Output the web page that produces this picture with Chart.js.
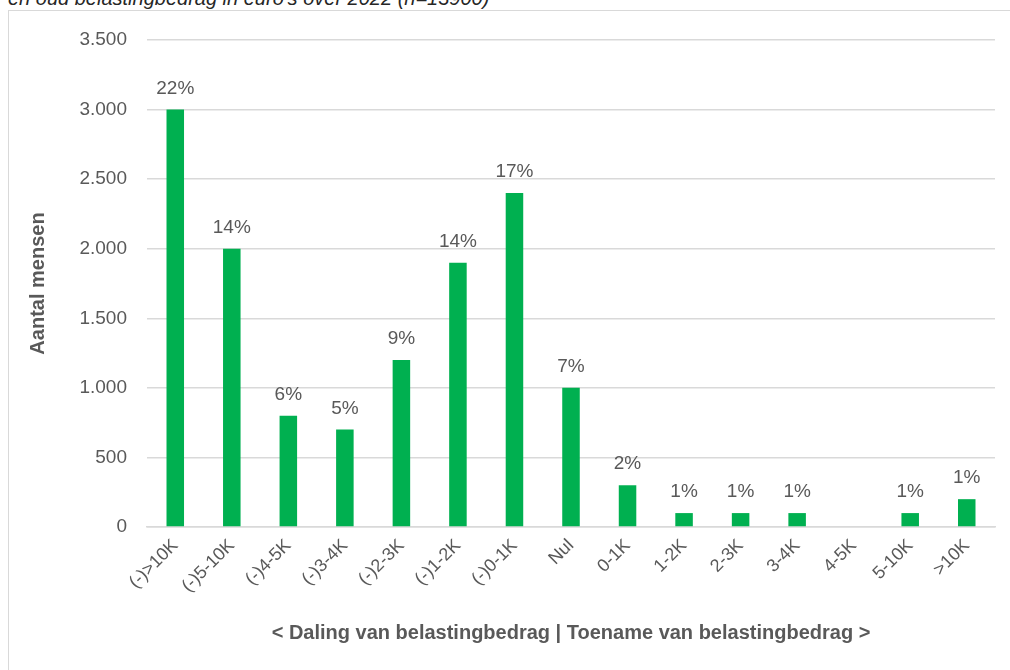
<!DOCTYPE html>
<html>
<head>
<meta charset="utf-8">
<script src="https://cdn.jsdelivr.net/npm/chart.js@4.4.1/dist/chart.umd.min.js"></script>
<style>
  body { margin: 0; background: #fff; overflow: hidden; }
  #wrap { position: relative; width: 1010px; height: 670px; overflow: hidden; }
  #title {
    position: absolute; left: 8px; top: -13px; white-space: nowrap;
    font: italic 20px "Liberation Sans", Arial, sans-serif; color: #262626;
  }
  #frame {
    position: absolute; left: 8px; top: 10px; width: 1100px; height: 800px;
    border: 1.5px solid #d9d9d9;
  }
  #myChart { position: absolute; left: 0; top: 0; }
</style>
</head>
<body>
<div id="wrap">
  <div id="title">en oud belastingbedrag in euro's over 2022 (n=13900)</div>
  <div id="frame"></div>
  <canvas id="myChart" width="1010" height="670"></canvas>
</div>
<script>
// categorieen (x-as)
const categories = ["(-)>10K", "(-)5-10K", "(-)4-5K", "(-)3-4K", "(-)2-3K", "(-)1-2K", "(-)0-1K",
  "Nul", "0-1K", "1-2K", "2-3K", "3-4K", "4-5K", "5-10K", ">10K"];
// aantal mensen per categorie
const counts = [3000, 2000, 800, 700, 1200, 1900, 2400, 1000, 300, 100, 100, 100, 0, 100, 200];
// percentage labels boven de staven
const pctLabels = ["22%", "14%", "6%", "5%", "9%", "14%", "17%", "7%", "2%", "1%", "1%", "1%", null, "1%", "1%"];
// y-as ticks
const yTicks = [0, 500, 1000, 1500, 2000, 2500, 3000, 3500];

const textColor = "#595959";
const fontFam = '"Liberation Sans", Arial, sans-serif';

// percentages boven de staven tekenen
const pctPlugin = {
  id: "pctLabels",
  afterDatasetsDraw(chart) {
    const ctx = chart.ctx;
    const meta = chart.getDatasetMeta(0);
    ctx.save();
    ctx.font = "19px " + fontFam;
    ctx.fillStyle = textColor;
    ctx.textAlign = "center";
    ctx.textBaseline = "alphabetic";
    meta.data.forEach((bar, i) => {
      if (pctLabels[i] == null) return;
      ctx.fillText(pctLabels[i], bar.x, bar.y - 16);
    });
    ctx.restore();
  }
};

const fmt = (v) => String(v).replace(/\B(?=(\d{3})+(?!\d))/g, ".");

var context = document.getElementById("myChart").getContext("2d");
var myChart = new Chart(context, {
  type: "bar",
  data: {
    labels: categories,
    datasets: [{
      data: counts,
      backgroundColor: "#00b050",
      borderWidth: 0,
      categoryPercentage: 1,
      barPercentage: 0.31
    }]
  },
  options: {
    responsive: false,
    animation: false,
    layout: { padding: { left: 22, right: 15, top: 40, bottom: 20 } },
    plugins: {
      legend: { display: false },
      tooltip: { enabled: false }
    },
    scales: {
      x: {
        grid: { display: false, drawTicks: false },
        border: { display: true, color: "#d9d9d9", width: 1.5 },
        ticks: {
          color: textColor,
          font: { size: 18, family: fontFam },
          minRotation: 45, maxRotation: 45,
          autoSkip: false,
          padding: 8
        },
        title: {
          display: true,
          text: "< Daling van belastingbedrag | Toename van belastingbedrag >",
          color: textColor,
          font: { size: 20, weight: "bold", family: fontFam },
          padding: { top: 4, bottom: 5 }
        },
        afterFit(scale) { scale.height = 123; }
      },
      y: {
        min: 0, max: 3500,
        afterBuildTicks(scale) { scale.ticks = yTicks.map(v => ({ value: v })); },
        grid: { color: "#d9d9d9", lineWidth: 1.5, drawTicks: false },
        border: { display: false },
        ticks: {
          color: textColor,
          font: { size: 19, family: fontFam },
          padding: 20,
          callback: (v) => fmt(v)
        },
        title: {
          display: true,
          text: "Aantal mensen",
          color: textColor,
          font: { size: 20, weight: "bold", family: fontFam },
          padding: { top: 4, bottom: 4 }
        },
        afterFit(scale) { scale.width = 125; }
      }
    }
  },
  plugins: [pctPlugin]
});
</script>
</body>
</html>
